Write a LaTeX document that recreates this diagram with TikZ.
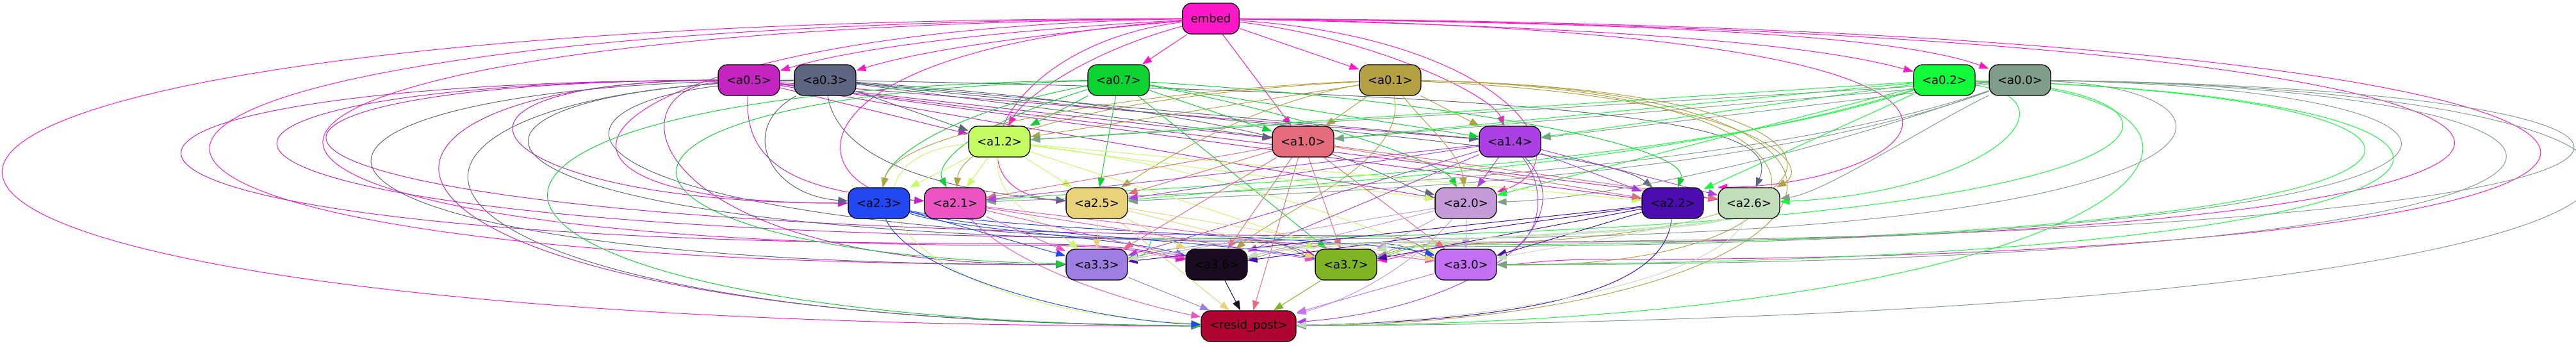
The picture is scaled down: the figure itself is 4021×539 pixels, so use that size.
\documentclass[tikz,border=0pt]{standalone}
\usepackage{fontspec}
\setmainfont{DejaVu Sans}
\usetikzlibrary{arrows.meta}
\pgfdeclarelayer{bg}
\pgfsetlayers{bg,main}
\definecolor{cEm}{HTML}{FF17C8}
\definecolor{cA05}{HTML}{C424C0}
\definecolor{cA03}{HTML}{5E6580}
\definecolor{cA07}{HTML}{0CD232}
\definecolor{cA01}{HTML}{B2A042}
\definecolor{cA02}{HTML}{12FA3A}
\definecolor{cA00}{HTML}{7F9D88}
\definecolor{cA12}{HTML}{C4FC62}
\definecolor{cA10}{HTML}{E46C7C}
\definecolor{cA14}{HTML}{AC40E4}
\definecolor{cA23}{HTML}{2248F4}
\definecolor{cA21}{HTML}{EC54C4}
\definecolor{cA25}{HTML}{E8D27A}
\definecolor{cA20}{HTML}{C49AD8}
\definecolor{cA22}{HTML}{4C0CB0}
\definecolor{cA26}{HTML}{C2DEBA}
\definecolor{cA33}{HTML}{9E7EE2}
\definecolor{cA36}{HTML}{1C0A20}
\definecolor{cA37}{HTML}{80B424}
\definecolor{cA30}{HTML}{C470F2}
\definecolor{cRP}{HTML}{AE0630}
\tikzset{
 nd/.style={draw=black, line width=1.3pt, rounded corners=14pt, minimum height=48pt,
   inner xsep=13pt, inner ysep=0pt, font=\fontsize{18}{20}\selectfont, text=black, fill=#1},
 ed/.style={draw=#1, line width=1pt, -{Triangle[length=15pt,width=11pt]}},
}
\begin{document}
\begin{tikzpicture}[x=1pt,y=-1pt]
\useasboundingbox (0,0) rectangle (4021,539);
% nodes
\node[nd=cEm] (em) at (1890,29) {embed};
\node[nd=cA05] (a05) at (1169,125) {<a0.5>};
\node[nd=cA03] (a03) at (1288,125) {<a0.3>};
\node[nd=cA07] (a07) at (1746,125) {<a0.7>};
\node[nd=cA01] (a01) at (2170,125) {<a0.1>};
\node[nd=cA02] (a02) at (3035,125) {<a0.2>};
\node[nd=cA00] (a00) at (3153,125) {<a0.0>};
\node[nd=cA12] (a12) at (1560,221) {<a1.2>};
\node[nd=cA10] (a10) at (2034,221) {<a1.0>};
\node[nd=cA14] (a14) at (2357,221) {<a1.4>};
\node[nd=cA23] (a23) at (1372,317) {<a2.3>};
\node[nd=cA21] (a21) at (1491,317) {<a2.1>};
\node[nd=cA25] (a25) at (1712,317) {<a2.5>};
\node[nd=cA20] (a20) at (2288,317) {<a2.0>};
\node[nd=cA22] (a22) at (2611,317) {<a2.2>};
\node[nd=cA26] (a26) at (2730,317) {<a2.6>};
\node[nd=cA33] (a33) at (1712,413) {<a3.3>};
\node[nd=cA36] (a36) at (1899,413) {<a3.6>};
\node[nd=cA37] (a37) at (2101,413) {<a3.7>};
\node[nd=cA30] (a30) at (2288,413) {<a3.0>};
\node[nd=cRP] (rp) at (1949,509) {<resid\_post>};
\begin{pgfonlayer}{bg}
% embed
\draw[ed=cEm] (em) .. controls (1600,45) and (1350,70) .. (a05);
\draw[ed=cEm] (em) .. controls (1650,50) and (1450,75) .. (a03);
\draw[ed=cEm] (em) -- (a07);
\draw[ed=cEm] (em) -- (a01);
\draw[ed=cEm] (em) .. controls (2400,40) and (2800,60) .. (a02);
\draw[ed=cEm] (em) .. controls (2500,35) and (2950,50) .. (a00);
\draw[ed=cEm] (em) .. controls (1700,80) and (1600,150) .. (a12);
\draw[ed=cEm] (em) -- (a10);
\draw[ed=cEm] (em) .. controls (2150,60) and (2330,150) .. (a14);
\draw[ed=cEm] (em) .. controls (1560,70) and (1470,300) .. (a25);
\draw[ed=cEm] (em) .. controls (2350,60) and (2480,250) .. (a20);
\draw[ed=cEm] (em) .. controls (900,45) and (700,317) .. (a23);
\draw[ed=cEm] (em) .. controls (1200,80) and (1250,300) .. (a21);
\draw[ed=cEm] (em) .. controls (3350,50) and (3000,290) .. (a26.north west);
\draw[ed=cEm] (em) .. controls (4540,40) and (4540,405) .. (2500,405) .. controls (2400,405) and (2380,413) .. (a30);
\draw[ed=cEm] (em) .. controls (4380,45) and (4380,378) .. (2400,378) .. controls (2220,378) and (2200,400) .. (a37);
\draw[ed=cEm] (em) .. controls (-145,38) and (-145,413) .. (a33);
\draw[ed=cEm] (em) .. controls (100,45) and (100,383) .. (1600,383) .. controls (1780,383) and (1800,398) .. (a36);
\draw[ed=cEm] (em) .. controls (-613,29) and (-613,509) .. (rp);
% a0.5
\draw[ed=cA05] (a05) -- (a12);
\draw[ed=cA05] (a05) -- (a10);
\draw[ed=cA05] (a05) -- (a14);
\draw[ed=cA05] (a05) -- (a20);
\draw[ed=cA05] (a05) -- (a22);
\draw[ed=cA05] (a05) -- (a26);
\draw[ed=cA05] (a05) .. controls (600,128) and (750,317) .. (a23);
\draw[ed=cA05] (a05) .. controls (1160,260) and (1250,300) .. (a21);
\draw[ed=cA05] (a05) .. controls (-60,128) and (-60,380) .. (1550,380) .. controls (1780,380) and (1800,395) .. (a36);
\draw[ed=cA05] (a05) .. controls (100,128) and (100,372) .. (1900,372) .. controls (2000,372) and (2040,395) .. (a37);
\draw[ed=cA05] (a05) .. controls (180,128) and (180,368) .. (2150,368) .. controls (2210,368) and (2230,395) .. (a30);
\draw[ed=cA05] (a05) .. controls (450,128) and (450,498) .. (rp);
\draw[ed=cA05] (a05) .. controls (950,140) and (1000,413) .. (a33);
% a0.3
\draw[ed=cA03] (a03) -- (a12);
\draw[ed=cA03] (a03) -- (a10);
\draw[ed=cA03] (a03) -- (a14);
\draw[ed=cA03] (a03) .. controls (1310,260) and (1500,300) .. (a25);
\draw[ed=cA03] (a03) .. controls (1150,200) and (1200,305) .. (a23);
\draw[ed=cA03] (a03) .. controls (2080,180) and (2150,280) .. (a20);
\draw[ed=cA03] (a03) .. controls (2000,200) and (2500,230) .. (a22);
\draw[ed=cA03] (a03) .. controls (2600,150) and (2780,200) .. (a26);
\draw[ed=cA03] (a03) .. controls (300,128) and (300,413) .. (a33);
\draw[ed=cA03] (a03) .. controls (480,135) and (480,500) .. (rp);
\draw[ed=cA03] (a03) .. controls (600,135) and (600,375) .. (1950,375) .. controls (2010,375) and (2030,398) .. (a37);
\draw[ed=cA03] (a03) .. controls (760,135) and (760,380) .. (2150,380) .. controls (2200,380) and (2215,398) .. (a30);
% a0.7
\draw[ed=cA07] (a07) -- (a12);
\draw[ed=cA07] (a07) -- (a10);
\draw[ed=cA07] (a07) -- (a14);
\draw[ed=cA07] (a07) -- (a25);
\draw[ed=cA07] (a07) .. controls (1500,200) and (1460,260) .. (a21);
\draw[ed=cA07] (a07) .. controls (1500,170) and (1390,240) .. (a23);
\draw[ed=cA07] (a07) .. controls (2000,170) and (2250,250) .. (a20);
\draw[ed=cA07] (a07) .. controls (2300,160) and (2640,230) .. (a22);
\draw[ed=cA07] (a07) -- (a37);
\draw[ed=cA07] (a07) .. controls (500,140) and (600,500) .. (rp);
\draw[ed=cA07] (a07) .. controls (800,150) and (900,395) .. (a33);
% a0.1
\draw[ed=cA01] (a01) -- (a10);
\draw[ed=cA01] (a01) -- (a14);
\draw[ed=cA01] (a01) -- (a12);
\draw[ed=cA01] (a01) .. controls (1950,160) and (1800,260) .. (a25);
\draw[ed=cA01] (a01) .. controls (1700,150) and (1500,220) .. (a21);
\draw[ed=cA01] (a01) .. controls (1800,140) and (1400,200) .. (a23);
\draw[ed=cA01] (a01) .. controls (2230,200) and (2280,240) .. (a20);
\draw[ed=cA01] (a01) .. controls (2200,250) and (2000,330) .. (a36);
\draw[ed=cA01] (a01) .. controls (2750,150) and (2830,260) .. (a26);
\draw[ed=cA01] (a01) .. controls (3100,140) and (2900,500) .. (rp);
\draw[ed=cA01] (a01) .. controls (3000,140) and (2950,380) .. (2250,380) .. controls (2200,380) and (2170,395) .. (a37);
\draw[ed=cA01] (a01) .. controls (2950,140) and (2900,420) .. (a30);
% a0.2
\draw[ed=cA02] (a02) -- (a12);
\draw[ed=cA02] (a02) -- (a10);
\draw[ed=cA02] (a02) -- (a14);
\draw[ed=cA02] (a02) .. controls (2600,260) and (2100,280) .. (a25);
\draw[ed=cA02] (a02) .. controls (2600,270) and (1800,290) .. (a21);
\draw[ed=cA02] (a02) -- (a20);
\draw[ed=cA02] (a02) -- (a22);
\draw[ed=cA02] (a02) .. controls (3250,160) and (3100,300) .. (a26);
\draw[ed=cA02] (a02) .. controls (4050,150) and (4050,405) .. (a30);
\draw[ed=cA02] (a02) .. controls (4000,150) and (4000,382) .. (2250,382) .. controls (2200,382) and (2170,398) .. (a37);
\draw[ed=cA02] (a02) .. controls (3500,140) and (3500,372) .. (1800,372) .. controls (1790,380) and (1800,395) .. (a33);
\draw[ed=cA02] (a02) .. controls (3600,150) and (3400,500) .. (rp);
% a0.0
\draw[ed=cA00] (a00) -- (a12);
\draw[ed=cA00] (a00) -- (a10);
\draw[ed=cA00] (a00) -- (a14);
\draw[ed=cA00] (a00) .. controls (2700,280) and (1900,300) .. (a21);
\draw[ed=cA00] (a00) .. controls (2700,290) and (2000,300) .. (a25);
\draw[ed=cA00] (a00) .. controls (2800,250) and (2500,310) .. (a20);
\draw[ed=cA00] (a00) .. controls (3000,200) and (2850,300) .. (a26);
\draw[ed=cA00] (a00) .. controls (3550,140) and (3550,372) .. (2200,372) .. controls (1850,372) and (1800,395) .. (a33);
\draw[ed=cA00] (a00) .. controls (4420,140) and (4420,378) .. (2200,378) .. controls (2000,378) and (1980,398) .. (a36);
\draw[ed=cA00] (a00) .. controls (4260,140) and (4260,413) .. (a30);
\draw[ed=cA00] (a00) .. controls (4050,140) and (4050,385) .. (2200,385) .. controls (2170,385) and (2160,398) .. (a37);
\draw[ed=cA00] (a00) .. controls (4480,140) and (4480,495) .. (rp);
% a1.2
\draw[ed=cA12] (a12) -- (a23);
\draw[ed=cA12] (a12) -- (a21);
\draw[ed=cA12] (a12) -- (a25);
\draw[ed=cA12] (a12) -- (a20);
\draw[ed=cA12] (a12) -- (a22);
\draw[ed=cA12] (a12) .. controls (1550,320) and (1650,360) .. (a33);
\draw[ed=cA12] (a12) .. controls (1800,300) and (2000,360) .. (a37);
\draw[ed=cA12] (a12) .. controls (1900,260) and (2150,360) .. (a30);
\draw[ed=cA12] (a12) .. controls (1300,240) and (1350,480) .. (rp);
% a1.0
\draw[ed=cA10] (a10) -- (a21);
\draw[ed=cA10] (a10) -- (a25);
\draw[ed=cA10] (a10) -- (a22);
\draw[ed=cA10] (a10) -- (a26);
\draw[ed=cA10] (a10) -- (a33);
\draw[ed=cA10] (a10) -- (a36);
\draw[ed=cA10] (a10) -- (a37);
\draw[ed=cA10] (a10) -- (a30);
\draw[ed=cA10] (a10) -- (rp);
% a1.4
\draw[ed=cA14] (a14) -- (a21);
\draw[ed=cA14] (a14) -- (a25);
\draw[ed=cA14] (a14) -- (a20);
\draw[ed=cA14] (a14) -- (a22);
\draw[ed=cA14] (a14) -- (a26);
\draw[ed=cA14] (a14) -- (a33);
\draw[ed=cA14] (a14) -- (a36);
\draw[ed=cA14] (a14) .. controls (2420,300) and (2400,380) .. (a30);
\draw[ed=cA14] (a14) .. controls (2480,350) and (2300,480) .. (rp);
% a2.3
\draw[ed=cA23] (a23) -- (a33);
\draw[ed=cA23] (a23) .. controls (1500,360) and (1750,370) .. (a36);
\draw[ed=cA23] (a23) .. controls (1550,365) and (1900,375) .. (a37);
\draw[ed=cA23] (a23) .. controls (1550,360) and (2150,372) .. (a30);
\draw[ed=cA23] (a23) .. controls (1420,430) and (1700,500) .. (rp);
% a2.1
\draw[ed=cA21] (a21) -- (a33);
\draw[ed=cA21] (a21) -- (a36);
\draw[ed=cA21] (a21) -- (a37);
\draw[ed=cA21] (a21) -- (a30);
\draw[ed=cA21] (a21) .. controls (1600,430) and (1800,480) .. (rp);
% a2.5
\draw[ed=cA25] (a25) -- (a33);
\draw[ed=cA25] (a25) -- (a36);
\draw[ed=cA25] (a25) -- (a37);
\draw[ed=cA25] (a25) -- (a30);
\draw[ed=cA25] (a25) -- (rp);
% a2.0
\draw[ed=cA20] (a20) -- (a33);
\draw[ed=cA20] (a20) -- (a36);
\draw[ed=cA20] (a20) -- (a37);
\draw[ed=cA20] (a20) -- (a30);
\draw[ed=cA20] (a20) .. controls (2200,420) and (2100,470) .. (rp);
% a2.2
\draw[ed=cA22] (a22) -- (a33);
\draw[ed=cA22] (a22) -- (a36);
\draw[ed=cA22] (a22) -- (a37);
\draw[ed=cA22] (a22) -- (a30);
\draw[ed=cA22] (a22) .. controls (2600,450) and (2400,500) .. (rp);
% a2.6
\draw[ed=cA26] (a26) .. controls (2650,370) and (1900,380) .. (a33);
\draw[ed=cA26] (a26) .. controls (2650,365) and (2050,375) .. (a36);
\draw[ed=cA26] (a26) .. controls (2650,360) and (2200,370) .. (a37);
\draw[ed=cA26] (a26) .. controls (2600,360) and (2400,390) .. (a30);
\draw[ed=cA26] (a26) .. controls (2700,420) and (2400,500) .. (rp);
% row 3 -> resid_post
\draw[ed=cA33] (a33) -- (rp);
\draw[ed=cA36] (a36) -- (rp);
\draw[ed=cA37] (a37) -- (rp);
\draw[ed=cA30] (a30) -- (rp);
\end{pgfonlayer}
\end{tikzpicture}
\end{document}
